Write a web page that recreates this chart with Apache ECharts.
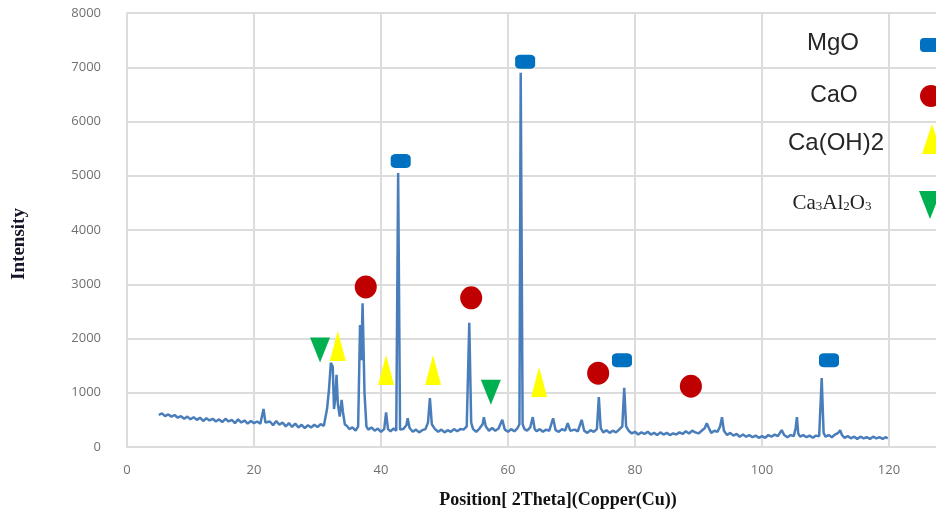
<!DOCTYPE html>
<html>
<head>
<meta charset="utf-8">
<script src="https://cdn.jsdelivr.net/npm/echarts@6/dist/echarts.min.js"></script>
<style>
html,body{margin:0;padding:0;background:#fff;}
#chart{width:936px;height:512px;}
</style>
</head>
<body>
<div id="chart"></div>
<script>
// XRD pattern [2Theta, intensity]
const pattern = [
[5.0,590],[5.5,620],[6.0,570],[6.5,600],[7.0,560],[7.5,590],[8.0,540],[8.5,570],[9.0,520],[9.5,560],
[10.0,510],[10.5,550],[11.0,500],[11.5,540],[12.0,480],[12.5,530],[13.0,490],[13.5,520],[14.0,470],[14.5,510],
[15.0,460],[15.5,520],[16.0,470],[16.5,500],[17.0,440],[17.5,510],[18.0,450],[18.5,490],[19.0,430],[19.5,480],
[20.0,440],[20.5,470],[21.0,430],[21.5,700],[21.8,450],[22.0,420],[22.5,470],[23.0,400],[23.5,480],[24.0,410],
[24.5,450],[25.0,380],[25.5,440],[26.0,370],[26.5,430],[27.0,360],[27.5,410],[28.0,350],[28.5,400],[29.0,360],
[29.5,410],[30.0,370],[30.5,420],[31.0,390],[31.5,700],[31.8,1050],[32.1,1550],[32.4,1480],[32.6,700],[32.8,900],
[33.0,1330],[33.2,800],[33.5,560],[33.8,870],[34.0,650],[34.3,420],[34.7,380],[35.0,330],[35.5,360],[36.0,300],
[36.4,380],[36.7,2250],[36.9,1600],[37.1,2650],[37.4,1000],[37.7,380],[38.0,320],[38.5,360],[39.0,300],[39.5,340],
[40.0,280],[40.5,330],[40.8,640],[41.1,330],[41.5,290],[42.0,340],[42.4,300],[42.7,5050],[43.0,320],[43.5,330],
[44.0,400],[44.2,530],[44.5,350],[45.0,280],[45.5,320],[46.0,270],[46.5,310],[47.0,330],[47.4,450],[47.7,900],
[48.0,420],[48.5,330],[49.0,280],[49.5,320],[50.0,270],[50.5,310],[51.0,280],[51.5,330],[52.0,290],[52.5,330],
[53.0,320],[53.5,380],[53.9,2290],[54.2,450],[54.5,330],[55.0,280],[55.5,340],[56.0,420],[56.2,550],[56.5,380],
[57.0,300],[57.5,350],[58.0,300],[58.5,340],[59.1,500],[59.5,320],[60.0,280],[60.5,330],[61.0,290],[61.5,350],
[61.8,420],[62.0,6900],[62.3,420],[62.6,330],[63.0,300],[63.5,360],[63.9,550],[64.2,330],[64.5,290],[65.0,330],
[65.5,280],[66.0,320],[66.5,300],[67.1,530],[67.5,310],[68.0,280],[68.5,330],[69.0,300],[69.4,440],[69.8,300],
[70.0,270],[70.5,320],[71.0,290],[71.6,500],[72.0,300],[72.5,260],[73.0,310],[73.5,280],[74.0,330],[74.3,920],
[74.6,350],[75.0,270],[75.5,310],[76.0,260],[76.5,300],[77.0,270],[77.5,320],[78.0,380],[78.3,1090],[78.6,380],
[79.0,300],[79.5,250],[80.0,280],[80.5,230],[81.0,270],[81.5,240],[82.0,280],[82.5,230],[83.0,260],[83.5,220],
[84.0,270],[84.5,230],[85.0,260],[85.5,220],[86.0,250],[86.5,230],[87.0,270],[87.5,240],[88.0,290],[88.5,250],
[89.0,300],[89.5,270],[90.0,250],[90.5,300],[91.0,350],[91.3,440],[91.6,360],[92.0,260],[92.5,300],[93.0,280],
[93.4,380],[93.7,550],[94.0,300],[94.5,220],[95.0,260],[95.5,210],[96.0,240],[96.5,190],[97.0,230],[97.5,190],
[98.0,220],[98.5,180],[99.0,210],[99.5,170],[100.0,200],[100.5,170],[101.0,220],[101.5,190],[102.0,230],[102.5,200],
[103.1,310],[103.5,220],[104.0,180],[104.5,220],[105.0,200],[105.3,350],[105.5,550],[105.7,250],[106.0,190],[106.5,220],
[107.0,180],[107.5,210],[108.0,170],[108.5,210],[109.0,200],[109.4,1270],[109.7,260],[110.0,190],[110.5,220],[111.0,180],
[111.5,230],[112.0,260],[112.3,310],[112.6,220],[113.0,170],[113.5,200],[114.0,160],[114.5,190],[115.0,150],[115.5,190],
[116.0,160],[116.5,180],[117.0,150],[117.5,190],[118.0,160],[118.5,180],[119.0,150],[119.5,180],[119.8,160]
];

// Phase markers [2Theta, marker height]
const mgoMarks = [[43.1,5270],[62.7,7100],[77.95,1600],[110.55,1600]];
const caoMarks = [[37.6,2950],[54.2,2750],[74.2,1360],[88.8,1120]];
const caoh2Marks = [[33.2,1860],[40.8,1420],[48.2,1420],[64.9,1200]];
const c3aMarks = [[30.4,1790],[57.3,1010]];

const xTicks = [0,20,40,60,80,100,120];
const yTicks = [0,1000,2000,3000,4000,5000,6000,7000,8000];

const chart = echarts.init(document.getElementById('chart'), null, {renderer:'canvas'});
const gridColor = '#dcdcdc';
const option = {
  animation:false,
  backgroundColor:'#ffffff',
  grid:{left:127, top:13, right:0, height:434, containLabel:false},
  xAxis:{
    type:'value', min:0, max:127.4, interval:20,
    axisLine:{show:true, lineStyle:{color:gridColor, width:2}},
    axisTick:{show:false},
    splitLine:{show:true, showMaxLine:false,
      lineStyle:{color:[gridColor,gridColor,gridColor,gridColor,gridColor,gridColor,gridColor,'rgba(0,0,0,0)'], width:2}},
    axisLabel:{color:'#707070', fontSize:13, fontFamily:'Open Sans', margin:17, showMaxLabel:false,
      formatter:function(v){return xTicks.indexOf(v)>=0 ? String(v) : '';}}
  },
  yAxis:{
    type:'value', min:0, max:8000, interval:1000,
    axisLine:{show:true, lineStyle:{color:gridColor, width:2}},
    axisTick:{show:false},
    splitLine:{show:true, lineStyle:{color:gridColor, width:2}},
    axisLabel:{color:'#707070', fontSize:13, fontFamily:'Open Sans', margin:26,
      formatter:function(v){return yTicks.indexOf(v)>=0 ? String(v) : '';}}
  },
  series:[
    {type:'line', name:'XRD', data:pattern, showSymbol:false, symbol:'none',
     lineStyle:{color:'#4a7ebb', width:2.5}, z:2},
    {type:'scatter', name:'MgO', data:mgoMarks, symbol:'roundRect', symbolSize:[20,14],
     itemStyle:{color:'#0070C0', opacity:1}, z:3},
    {type:'scatter', name:'CaO', data:caoMarks, symbol:'circle', symbolSize:[22,23],
     itemStyle:{color:'#C00000', opacity:1}, z:3},
    {type:'scatter', name:'Ca(OH)2', data:caoh2Marks, symbol:'triangle', symbolSize:[16,30],
     itemStyle:{color:'#FFFF00', opacity:1}, z:3},
    {type:'scatter', name:'Ca3Al2O3', data:c3aMarks, symbol:'triangle', symbolRotate:180, symbolSize:[20,25],
     itemStyle:{color:'#00B050', opacity:1}, z:3}
  ],
  graphic:[
    {type:'text', x:19, y:244, rotation:Math.PI/2,
     style:{text:'Intensity', font:'bold 19px "Liberation Serif"', fill:'#15152a', align:'center', verticalAlign:'middle'}},
    {type:'text', x:558, y:500,
     style:{text:'Position[ 2Theta](Copper(Cu))', font:'bold 18px "Liberation Serif"', fill:'#111', align:'center', verticalAlign:'middle'}},
    {type:'text', x:833, y:43,
     style:{text:'MgO', font:'24px "Liberation Sans"', fill:'#262626', align:'center', verticalAlign:'middle'}},
    {type:'text', x:834, y:96,
     style:{text:'CaO', font:'23px "Liberation Sans"', fill:'#262626', align:'center', verticalAlign:'middle'}},
    {type:'text', x:836, y:143,
     style:{text:'Ca(OH)2', font:'24px "Liberation Sans"', fill:'#262626', align:'center', verticalAlign:'middle'}},
    {type:'text', x:832, y:203,
     style:{text:'{n|Ca}{s|3}{n|Al}{s|2}{n|O}{s|3}', align:'center', verticalAlign:'middle',
       rich:{n:{font:'21px "Liberation Serif"', fill:'#222', verticalAlign:'bottom'},
             s:{font:'13px "Liberation Serif"', fill:'#222', verticalAlign:'bottom'}}}},
    {type:'rect', shape:{x:920, y:38, width:22, height:14, r:4}, style:{fill:'#0070C0'}},
    {type:'circle', shape:{cx:931, cy:96, r:11}, style:{fill:'#C00000'}},
    {type:'polygon', shape:{points:[[922,154],[942,154],[932,124]]}, style:{fill:'#FFFF00'}},
    {type:'polygon', shape:{points:[[919,191],[941,191],[930,219]]}, style:{fill:'#00B050'}}
  ]
};
chart.setOption(option);
</script>
</body>
</html>
